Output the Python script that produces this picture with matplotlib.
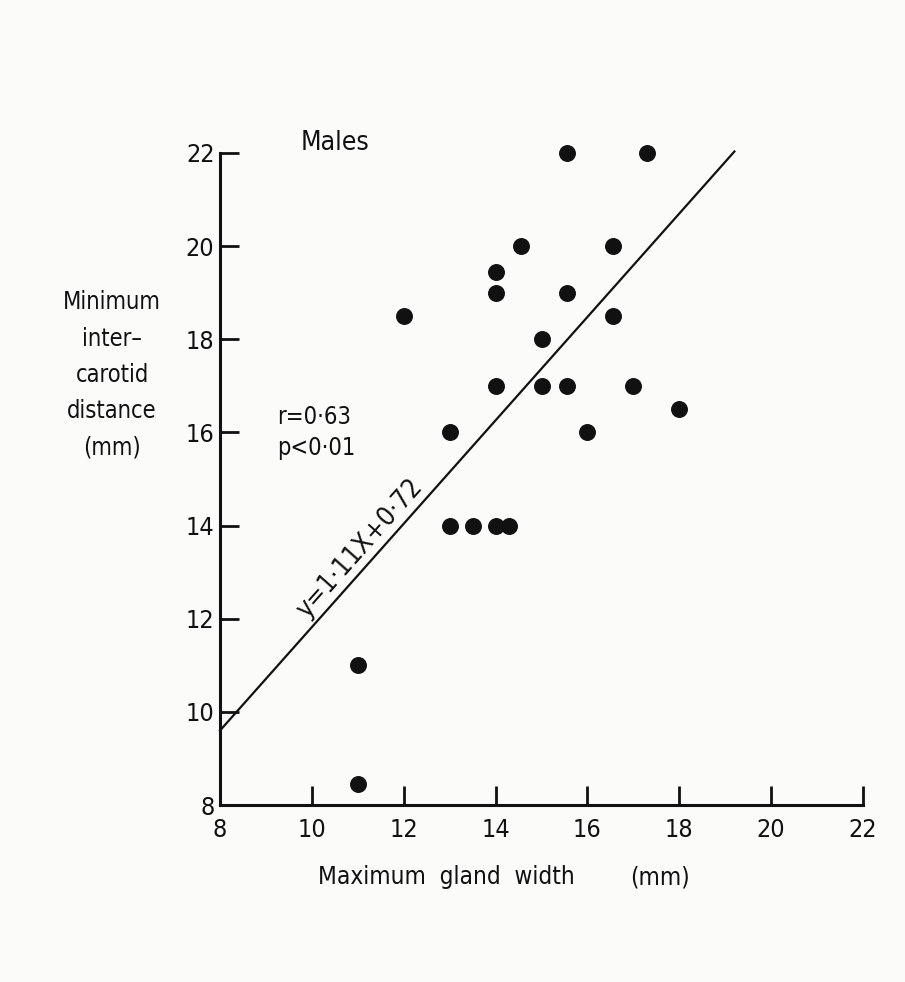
import matplotlib
matplotlib.use("Agg")
import matplotlib.pyplot as plt

# Data
gland_width = [11.0, 11.0, 12.0, 13.0, 13.0, 13.5, 14.0, 14.3, 14.0, 14.0, 14.0,
               14.55, 15.0, 15.0, 15.55, 15.55, 15.55, 16.0, 16.55, 16.55, 17.0, 17.3, 18.0]
intercarotid = [8.45, 11.0, 18.5, 16.0, 14.0, 14.0, 14.0, 14.0, 17.0, 19.0, 19.45,
                20.0, 18.0, 17.0, 22.0, 19.0, 17.0, 16.0, 20.0, 18.5, 17.0, 22.0, 16.5]
slope, intercept = 1.11, 0.72
fit_x = [8.0, 19.2]
x_ticks = [8, 10, 12, 14, 16, 18, 20, 22]
y_ticks = [8, 10, 12, 14, 16, 18, 20, 22]
x_tick_labels = ["8", "10", "12", "14", "16", "18", "20", "22"]
y_tick_labels = ["8", "10", "12", "14", "16", "18", "20", "22"]

ink = "#111111"
plt.rcParams['font.family'] = ['DejaVu Sans']
plt.rcParams['font.stretch'] = 'condensed'

fig = plt.figure(figsize=(9.05, 9.82), dpi=100, facecolor="#fbfbfa")
ax = fig.add_axes([0.2431, 0.1802, 0.7105, 0.6640])
ax.set_facecolor("#fbfbfa")
ax.set_xlim(8, 22)
ax.set_ylim(8, 22)

for s in ["top", "right"]:
    ax.spines[s].set_visible(False)
for s in ["left", "bottom"]:
    ax.spines[s].set_linewidth(2.2)
    ax.spines[s].set_color(ink)

ax.set_xticks(x_ticks)
ax.set_xticklabels(x_tick_labels)
ax.set_yticks(y_ticks)
ax.set_yticklabels(y_tick_labels)
ax.tick_params(axis="both", direction="in", length=14, width=2.0, colors=ink,
               labelsize=18, pad=4)
ax.tick_params(axis="x", pad=9)

ax.scatter(gland_width, intercarotid, s=125, color=ink, zorder=3, clip_on=False)
fit_y = [slope * v + intercept for v in fit_x]
ax.plot(fit_x, fit_y, color=ink, lw=1.6, clip_on=False)

ax.text(11.05, 13.5, "y=1·11X+0·72", rotation=48.4, rotation_mode="anchor",
        ha="center", va="center", fontsize=19, color=ink)

ax.text(10.5, 22.21, "Males", fontsize=19, color=ink, ha="center", va="center")
ax.text(9.25, 16.0, "r=0·63\np<0·01", fontsize=17, color=ink, ha="left",
        va="center", linespacing=1.4)

fig.text(112 / 905, 1 - 375 / 982, "Minimum\ninter–\ncarotid\ndistance\n(mm)",
         ha="center", va="center", fontsize=17, color=ink, linespacing=1.65)
fig.text(318 / 905, 1 - 877 / 982, "Maximum  gland  width",
         ha="left", va="center", fontsize=17.5, color=ink)
fig.text(630 / 905, 1 - 877 / 982, "(mm)",
         ha="left", va="center", fontsize=17.5, color=ink)

fig.savefig("out.png", dpi=100, facecolor=fig.get_facecolor())
